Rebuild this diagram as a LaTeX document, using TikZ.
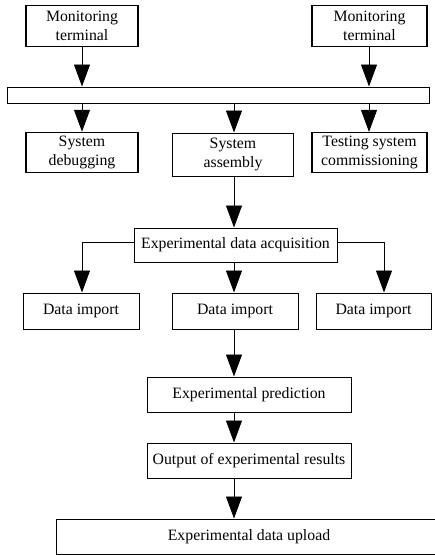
\documentclass[tikz,border=0pt]{standalone}
\usepackage{fontspec}
\setmainfont{Liberation Serif}
\usetikzlibrary{arrows.meta}
\begin{document}
\begin{tikzpicture}[x=1pt,y=-1pt,
  box/.style={draw,line width=1pt,rectangle,inner sep=0pt,align=center,
    font=\fontsize{15.8}{18.5}\selectfont},
  thickbox/.style={box,line width=1.5pt},
  arr/.style={line width=0.9pt,-{Triangle[width=16pt,length=22pt]}},
  ln/.style={line width=0.9pt}]
\useasboundingbox (0,0) rectangle (435,555);
\node[thickbox,minimum width=112pt,minimum height=41pt] (mt1) at (82,26) {Monitoring\\terminal};
\node[thickbox,minimum width=115pt,minimum height=41pt] (mt2) at (369.5,26) {Monitoring\\terminal};
\node[box,minimum width=422pt,minimum height=16pt] (bar) at (218,95) {};
\node[thickbox,minimum width=112pt,minimum height=40pt] (sd) at (82,152.5) {System\\debugging};
\node[box,minimum width=121pt,minimum height=43pt] (sa) at (233,154.5) {System\\assembly};
\node[box,line width=1.2pt,minimum width=115pt,minimum height=40pt] (ts) at (369.5,152.5) {Testing system\\commissioning};
\node[box,minimum width=203pt,minimum height=34pt] (acq) at (235.5,245) {Experimental data acquisition};
\node[box,minimum width=116pt,minimum height=36pt] (di1) at (81,311) {Data import};
\node[box,minimum width=126pt,minimum height=36pt] (di2) at (235,311) {Data import};
\node[box,minimum width=115pt,minimum height=36pt] (di3) at (373.5,311) {Data import};
\node[box,minimum width=204pt,minimum height=35pt] (pred) at (249,394.5) {Experimental prediction};
\node[box,minimum width=204pt,minimum height=35pt] (out) at (249,460.5) {Output of experimental results};
\node[box,minimum width=386pt,minimum height=35pt] (up) at (249,536.5) {Experimental data upload};
\coordinate (c1) at (82,0);
\coordinate (c2) at (369,0);
\coordinate (c3) at (234,0);
\coordinate (cl) at (82,242);
\coordinate (cr) at (384,242);
\draw[arr] (mt1.south -| c1) -- (bar.north -| c1);
\draw[arr] (mt2.south -| c2) -- (bar.north -| c2);
\draw[arr] (bar.south -| c1) -- (sd.north -| c1);
\draw[arr] (bar.south -| c3) -- (sa.north -| c3);
\draw[arr] (bar.south -| c2) -- (ts.north -| c2);
\draw[arr] (sa.south -| c3) -- (acq.north -| c3);
\draw[arr] (acq.south -| c3) -- (di2.north -| c3);
\draw[arr] (acq.west |- cl) -- (cl) -- (di1.north -| cl);
\draw[arr] (acq.east |- cr) -- (cr) -- (di3.north -| cr);
\draw[arr] (di2.south -| c3) -- (pred.north -| c3);
\draw[arr] (pred.south -| c3) -- (out.north -| c3);
\draw[arr] (out.south -| c3) -- (up.north -| c3);
\end{tikzpicture}
\end{document}
